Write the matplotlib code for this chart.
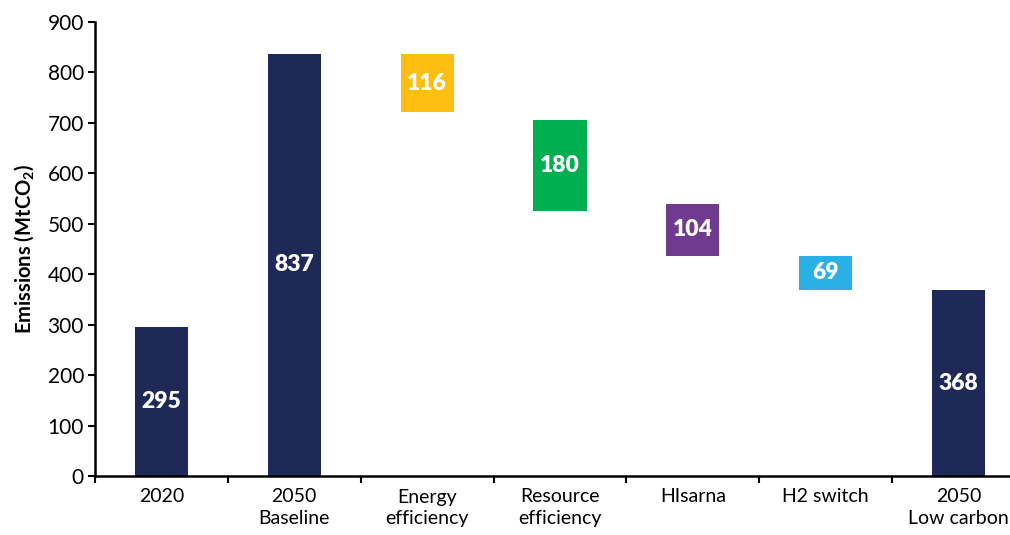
import matplotlib
matplotlib.use("Agg")
import matplotlib.pyplot as plt
import numpy as np

plt.rcParams['font.family'] = ['Lato', 'DejaVu Sans']
plt.rcParams['mathtext.default'] = 'regular'

# Data
categories = ['2020', '2050\nBaseline', 'Energy\nefficiency', 'Resource\nefficiency',
              'HIsarna', 'H2 switch', '2050\nLow carbon']
totals = {'2020': 295, '2050\nBaseline': 837, '2050\nLow carbon': 368}
step_names = ['Energy\nefficiency', 'Resource\nefficiency', 'HIsarna', 'H2 switch']
step_values = [116, 180, 104, 69]
step_tops = [837, 706, 540, 437]   # top of each floating bar as drawn

navy = '#1f2957'
step_colors = ['#fdbe10', '#00b050', '#6f3a90', '#29b1e6']

fig = plt.figure(figsize=(10.1, 5.35), dpi=100)
ax = fig.add_axes([95 / 1010, 1 - 476 / 535, 930 / 1010, 454 / 535])

x = np.arange(len(categories))
width = 0.4

# Total bars
for name, v in totals.items():
    i = categories.index(name)
    ax.bar(i, v, width=width, color=navy)
    ax.text(i, v / 2, f'{v}', ha='center', va='center', color='white',
            fontsize=16.5, fontweight='heavy')

# Floating bars
for name, v, top, c in zip(step_names, step_values, step_tops, step_colors):
    i = categories.index(name)
    ax.bar(i, v, bottom=top - v, width=width, color=c)
    ax.text(i, top - v / 2, f'{v}', ha='center', va='center', color='white',
            fontsize=16.5, fontweight='heavy')

ax.set_xlim(-0.5, len(categories) - 0.5)
ax.set_ylim(0, 900)
ax.set_yticks(np.arange(0, 901, 100))
ax.set_xticks(x)
ax.set_xticklabels(categories, fontsize=14, linespacing=1.35)
ax.set_xticks(np.arange(-0.5, len(categories), 1), minor=True)
ax.tick_params(axis='x', which='major', length=0, pad=9)
ax.tick_params(axis='x', which='minor', length=5, width=1.5, direction='out')
ax.tick_params(axis='y', length=5, width=1.5, direction='out', labelsize=15, pad=3)

for s in ['top', 'right']:
    ax.spines[s].set_visible(False)
for s in ['left', 'bottom']:
    ax.spines[s].set_linewidth(1.8)

ax.set_ylabel('Emissions (MtCO$_2$)', fontsize=14.5, fontweight='bold', labelpad=8)

fig.savefig('out.png', dpi=100)
